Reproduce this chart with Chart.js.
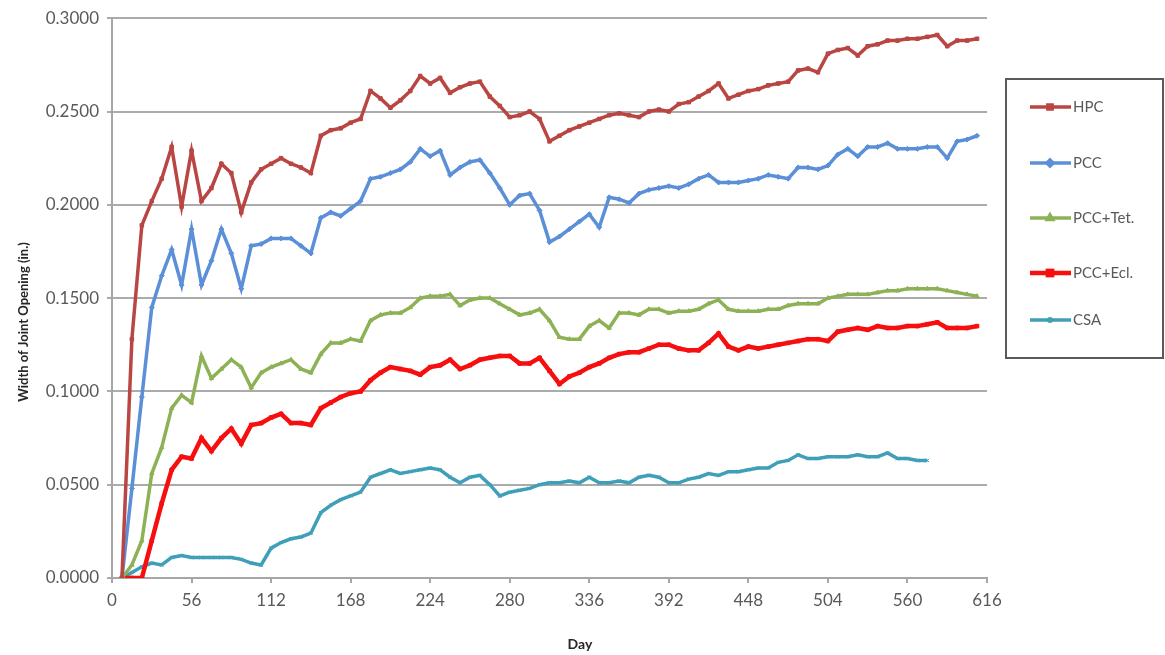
<!DOCTYPE html>
<html>
<head>
<meta charset="utf-8">
<script src="https://cdn.jsdelivr.net/npm/chart.js@4.4.1/dist/chart.umd.min.js"></script>
<style>
  html, body { margin: 0; padding: 0; background: #fff; }
  #wrap { width: 1165px; height: 655px; }
</style>
</head>
<body>
<div id="wrap"><canvas id="jointChart"></canvas></div>
<script>
const days = [0, 7, 14, 21, 28, 35, 42, 49, 56, 63, 70, 77, 84, 91, 98, 105,
  112, 119, 126, 133, 140, 147, 154, 161, 168, 175, 182, 189, 196, 203, 210, 217,
  224, 231, 238, 245, 252, 259, 266, 273, 280, 287, 294, 301, 308, 315, 322, 329,
  336, 343, 350, 357, 364, 371, 378, 385, 392, 399, 406, 413, 420, 427, 434, 441,
  448, 455, 462, 469, 476, 483, 490, 497, 504, 511, 518, 525, 532, 539, 546, 553,
  560, 567, 574, 581, 588, 595, 602, 609];

const hpc = [null, 0.000, 0.128, 0.189, 0.202, 0.214, 0.231, 0.199,
  0.229, 0.202, 0.209, 0.222, 0.217, 0.196, 0.212, 0.219,
  0.222, 0.225, 0.222, 0.220, 0.217, 0.237, 0.240, 0.241,
  0.244, 0.246, 0.261, 0.257, 0.252, 0.256, 0.261, 0.269,
  0.265, 0.268, 0.260, 0.263, 0.265, 0.266, 0.258, 0.253,
  0.247, 0.248, 0.250, 0.246, 0.234, 0.237, 0.240, 0.242,
  0.244, 0.246, 0.248, 0.249, 0.248, 0.247, 0.250, 0.251,
  0.250, 0.254, 0.255, 0.258, 0.261, 0.265, 0.257, 0.259,
  0.261, 0.262, 0.264, 0.265, 0.266, 0.272, 0.273, 0.271,
  0.281, 0.283, 0.284, 0.280, 0.285, 0.286, 0.288, 0.288,
  0.289, 0.289, 0.290, 0.291, 0.285, 0.288, 0.288, 0.289];

const pcc = [null, 0.000, 0.048, 0.097, 0.145, 0.162, 0.176, 0.157,
  0.187, 0.157, 0.170, 0.187, 0.174, 0.155, 0.178, 0.179,
  0.182, 0.182, 0.182, 0.178, 0.174, 0.193, 0.196, 0.194,
  0.198, 0.202, 0.214, 0.215, 0.217, 0.219, 0.223, 0.230,
  0.226, 0.229, 0.216, 0.220, 0.223, 0.224, 0.217, 0.209,
  0.200, 0.205, 0.206, 0.197, 0.180, 0.183, 0.187, 0.191,
  0.195, 0.188, 0.204, 0.203, 0.201, 0.206, 0.208, 0.209,
  0.210, 0.209, 0.211, 0.214, 0.216, 0.212, 0.212, 0.212,
  0.213, 0.214, 0.216, 0.215, 0.214, 0.220, 0.220, 0.219,
  0.221, 0.227, 0.230, 0.226, 0.231, 0.231, 0.233, 0.230,
  0.230, 0.230, 0.231, 0.231, 0.225, 0.234, 0.235, 0.237];

const pccTet = [null, 0.000, 0.007, 0.020, 0.056, 0.070, 0.091, 0.098,
  0.094, 0.119, 0.107, 0.112, 0.117, 0.113, 0.102, 0.110,
  0.113, 0.115, 0.117, 0.112, 0.110, 0.120, 0.126, 0.126,
  0.128, 0.127, 0.138, 0.141, 0.142, 0.142, 0.145, 0.150,
  0.151, 0.151, 0.152, 0.146, 0.149, 0.150, 0.150, 0.147,
  0.144, 0.141, 0.142, 0.144, 0.138, 0.129, 0.128, 0.128,
  0.135, 0.138, 0.134, 0.142, 0.142, 0.141, 0.144, 0.144,
  0.142, 0.143, 0.143, 0.144, 0.147, 0.149, 0.144, 0.143,
  0.143, 0.143, 0.144, 0.144, 0.146, 0.147, 0.147, 0.147,
  0.150, 0.151, 0.152, 0.152, 0.152, 0.153, 0.154, 0.154,
  0.155, 0.155, 0.155, 0.155, 0.154, 0.153, 0.152, 0.151];

const pccEcl = [null, 0.000, 0.000, 0.000, 0.020, 0.040, 0.058, 0.065,
  0.064, 0.075, 0.068, 0.075, 0.080, 0.072, 0.082, 0.083,
  0.086, 0.088, 0.083, 0.083, 0.082, 0.091, 0.094, 0.097,
  0.099, 0.100, 0.106, 0.110, 0.113, 0.112, 0.111, 0.109,
  0.113, 0.114, 0.117, 0.112, 0.114, 0.117, 0.118, 0.119,
  0.119, 0.115, 0.115, 0.118, 0.111, 0.104, 0.108, 0.110,
  0.113, 0.115, 0.118, 0.120, 0.121, 0.121, 0.123, 0.125,
  0.125, 0.123, 0.122, 0.122, 0.126, 0.131, 0.124, 0.122,
  0.124, 0.123, 0.124, 0.125, 0.126, 0.127, 0.128, 0.128,
  0.127, 0.132, 0.133, 0.134, 0.133, 0.135, 0.134, 0.134,
  0.135, 0.135, 0.136, 0.137, 0.134, 0.134, 0.134, 0.135];

const csa = [null, 0.000, 0.003, 0.006, 0.008, 0.007, 0.011, 0.012,
  0.011, 0.011, 0.011, 0.011, 0.011, 0.010, 0.008, 0.007,
  0.016, 0.019, 0.021, 0.022, 0.024, 0.035, 0.039, 0.042,
  0.044, 0.046, 0.054, 0.056, 0.058, 0.056, 0.057, 0.058,
  0.059, 0.058, 0.054, 0.051, 0.054, 0.055, 0.050, 0.044,
  0.046, 0.047, 0.048, 0.050, 0.051, 0.051, 0.052, 0.051,
  0.054, 0.051, 0.051, 0.052, 0.051, 0.054, 0.055, 0.054,
  0.051, 0.051, 0.053, 0.054, 0.056, 0.055, 0.057, 0.057,
  0.058, 0.059, 0.059, 0.062, 0.063, 0.066, 0.064, 0.064,
  0.065, 0.065, 0.065, 0.066, 0.065, 0.065, 0.067, 0.064,
  0.064, 0.063, 0.063, null, null, null, null, null];

const seriesNames = ['HPC', 'PCC', 'PCC+Tet.', 'PCC+Ecl.', 'CSA'];
const seriesValues = [hpc, pcc, pccTet, pccEcl, csa];
const seriesColors = ['#B94643', '#5B8FD8', '#8DB255', '#F70F0F', '#3F9FB8'];
const seriesMarkers = ['rect', 'rectRot', 'triangle', 'rect', 'crossRot'];
const seriesWidths = [3.5, 3.5, 3.5, 4.5, 3.5];

const FONT = 'Lato, "Open Sans", sans-serif';

// legend drawn by hand so it can sit in its own framed box
const legendRows = [107, 163, 218, 273, 320];

const boxedLegend = {
  id: 'boxedLegend',
  afterDraw(chart) {
    const ctx = chart.ctx;
    ctx.save();
    ctx.strokeStyle = '#5a5a5a';
    ctx.lineWidth = 2;
    ctx.strokeRect(1006, 79, 157, 279);

    ctx.font = '15px ' + FONT;
    ctx.textBaseline = 'middle';
    chart.data.datasets.forEach((ds, i) => {
      const y = legendRows[i];
      ctx.strokeStyle = ds.borderColor;
      ctx.fillStyle = ds.borderColor;
      ctx.lineWidth = ds.borderWidth;
      ctx.beginPath();
      ctx.moveTo(1030, y);
      ctx.lineTo(1071, y);
      ctx.stroke();
      Chart.helpers.drawPoint(ctx, {
        pointStyle: ds.pointStyle, radius: ds.pointRadius + 0.5, borderWidth: 1.5
      }, 1050, y);
      ctx.fillStyle = '#595959';
      ctx.fillText(ds.label, 1073, y);
    });

    // axis titles
    ctx.fillStyle = '#262626';
    ctx.font = 'bold 14px ' + FONT;
    ctx.textAlign = 'center';
    ctx.fillText('Day', 580, 644);
    ctx.translate(24, 322);
    ctx.rotate(-Math.PI / 2);
    ctx.font = 'bold 13px ' + FONT;
    ctx.fillText('Width of Joint Opening (in.)', 0, 0);
    ctx.restore();
  }
};

function buildDatasets() {
  return seriesNames.map((name, i) => ({
    label: name,
    data: days.map((d, j) => ({ x: d, y: seriesValues[i][j] })),
    borderColor: seriesColors[i],
    backgroundColor: seriesColors[i],
    borderWidth: seriesWidths[i],
    pointStyle: seriesMarkers[i],
    pointRadius: 2.5,
    pointBorderWidth: 1,
    tension: 0,
    spanGaps: false
  }));
}

new Chart(document.getElementById('jointChart'), {
  type: 'line',
  data: { datasets: buildDatasets() },
  plugins: [boxedLegend],
  options: {
    responsive: true,
    maintainAspectRatio: false,
    animation: false,
    layout: { padding: { top: 17, right: 178, left: 0, bottom: 0 } },
    plugins: {
      legend: { display: false },
      tooltip: { enabled: false }
    },
    scales: {
      x: {
        type: 'linear',
        min: 0,
        max: 616,
        ticks: {
          stepSize: 56,
          color: '#595959',
          font: { family: FONT, size: 17 },
          padding: 7
        },
        grid: {
          drawOnChartArea: false,
          drawTicks: true,
          tickLength: 5,
          color: '#A6A6A6',
          lineWidth: 2
        },
        border: { color: '#A6A6A6', width: 2 },
        afterFit: function(scale) { scale.height = 77; }
      },
      y: {
        min: 0,
        max: 0.3,
        ticks: {
          stepSize: 0.05,
          color: '#595959',
          font: { family: FONT, size: 17 },
          padding: 8,
          callback: function(v) { return v.toFixed(4); }
        },
        grid: {
          color: '#ABABAB',
          lineWidth: 2,
          tickLength: 5
        },
        border: { color: '#A6A6A6', width: 2 },
        afterFit: function(scale) { scale.width = 112; }
      }
    }
  }
});
</script>
</body>
</html>
